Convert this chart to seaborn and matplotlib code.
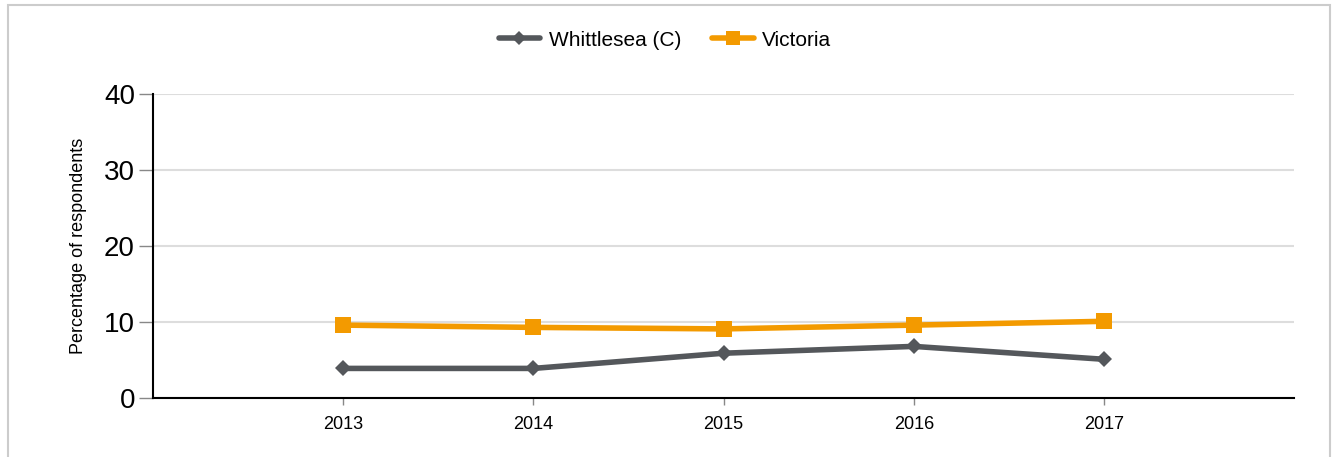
import pandas as pd
import seaborn as sns
import matplotlib.pyplot as plt
from matplotlib.patches import Rectangle
from matplotlib.lines import Line2D

years = [2013, 2014, 2015, 2016, 2017]
whittlesea = [3.9, 3.9, 5.9, 6.8, 5.1]
victoria = [9.6, 9.3, 9.1, 9.6, 10.1]
series_names = ["Whittlesea (C)", "Victoria"]

df = pd.DataFrame({
    "year": years * 2,
    "value": whittlesea + victoria,
    "area": [series_names[0]] * len(years) + [series_names[1]] * len(years),
})

colors = {series_names[0]: "#54575b", series_names[1]: "#f39a00"}
marks = {series_names[0]: "D", series_names[1]: "s"}

sns.set_style("white")
plt.rcParams['font.family'] = ['Liberation Sans', 'DejaVu Sans']
plt.rcParams['text.color'] = 'black'
plt.rcParams['xtick.color'] = 'black'
plt.rcParams['ytick.color'] = 'black'
plt.rcParams['axes.labelcolor'] = 'black'

fig = plt.figure(figsize=(13.38, 4.57), dpi=100)
ax = fig.add_axes([0.1143, 0.129, 0.853, 0.665])

sns.lineplot(data=df, x="year", y="value", hue="area", style="area",
             palette=colors, markers=marks,
             dashes=False, linewidth=4, ax=ax, legend=False)
for line, ms in zip(ax.lines, [8, 11]):
    line.set_markersize(ms)
    line.set_markeredgewidth(0)

ax.set_xlim(2012, 2018)
ax.set_ylim(0, 40)
ax.set_xticks(years)
ax.set_xticklabels([str(y) for y in years], fontsize=13)
ax.set_yticks([0, 10, 20, 30, 40])
ax.set_yticklabels(["0", "10", "20", "30", "40"], fontsize=20)
ax.yaxis.grid(True, color="#dddddd", linewidth=1.5)
ax.set_axisbelow(True)
ax.set_xlabel("")
ax.set_ylabel("Percentage of respondents", fontsize=13, labelpad=12)

for s in ["top", "right"]:
    ax.spines[s].set_visible(False)
ax.spines["left"].set_color("black")
ax.spines["left"].set_linewidth(1.5)
ax.spines["bottom"].set_color("black")
ax.spines["bottom"].set_linewidth(1.5)
ax.tick_params(axis="y", length=10, color="#888888", width=1, direction="out", left=True, pad=3)
ax.tick_params(axis="x", length=5, color="#888888", width=1, direction="out", bottom=True, pad=8)

handles = [Line2D([], [], color=colors[n], marker=marks[n], linewidth=4,
                  markersize=ms, markeredgewidth=0)
           for n, ms in zip(series_names, [7, 10])]
fig.legend(handles, series_names, loc="center", bbox_to_anchor=(0.497, 0.912),
           ncol=2, frameon=False, fontsize=15, handlelength=2.0,
           handletextpad=0.4, columnspacing=1.5)

fig.patches.append(Rectangle((8 / 1338, -0.01), (1330 - 8) / 1338, 1 - 5 / 457 + 0.01,
                             transform=fig.transFigure, fill=False,
                             edgecolor="#cccccc", linewidth=1.5))

fig.savefig("out.png", dpi=100)
